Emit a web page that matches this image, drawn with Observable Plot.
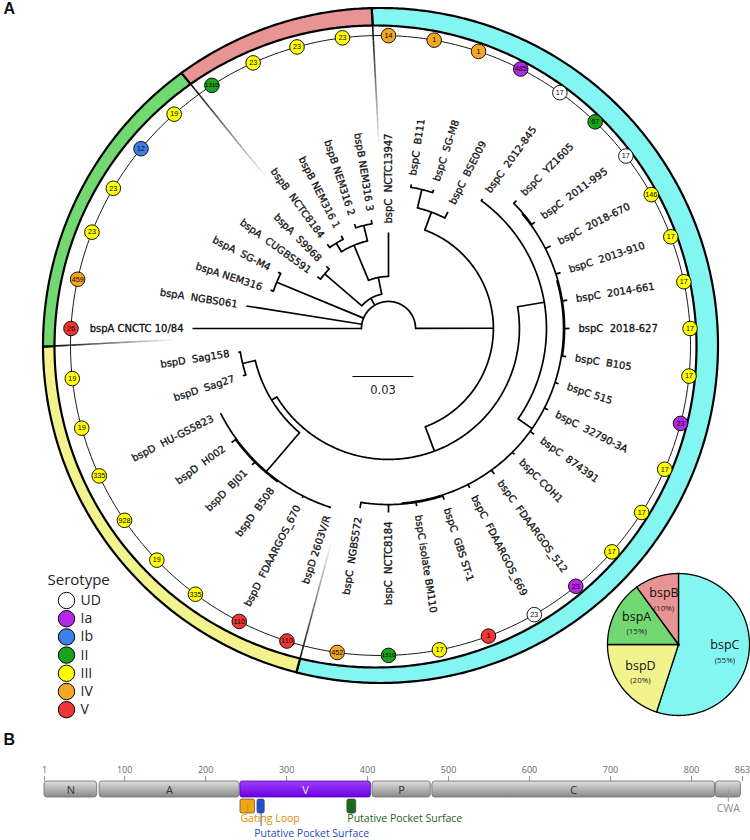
<!DOCTYPE html>
<html>
<head>
<meta charset="utf-8">
<script src="https://cdn.jsdelivr.net/npm/d3@7"></script>
<script src="https://cdn.jsdelivr.net/npm/@observablehq/plot@0.6"></script>
<style>
  html, body { margin: 0; padding: 0; background: #fff; }
  #chart { width: 750px; }
  #chart svg { display: block; }
  #chart svg text { white-space: pre; }
</style>
</head>
<body>
<div id="chart"></div>
<script>
// ================= DATA =================
// leaves in clockwise order, starting at 9 o'clock
const leafNames = [
  "bspA CNCTC 10/84", "bspA  NGBS061", "bspA NEM316", "bspA  SG-M4", "bspA  CUGBS591",
  "bspA  S9968", "bspB  NCTC8184", "bspB NEM316 1", "bspB NEM316 2", "bspB NEM316 3",
  "bspC  NCTC13947", "bspC  B111", "bspC  SG-M8", "bspC  BSE009", "bspC  2012-845",
  "bspC  YZ1605", "bspC  2011-995", "bspC  2018-670", "bspC  2013-910", "bspC  2014-661",
  "bspC  2018-627", "bspC  B105", "bspC 515", "bspC  32790-3A", "bspC  874391",
  "bspC COH1", "bspC  FDAARGOS_512", "bspC  FDAARGOS_669", "bspC  GBS ST-1", "bspC isolate BM110",
  "bspC  NCTC8184", "bspC  NGBS572", "bspD 2603V/R", "bspD  FDAARGOS_670", "bspD  B508",
  "bspD  BJ01", "bspD  H002", "bspD  HU-GS5823", "bspD  Sag27", "bspD  Sag158"
];
const leafSerotype = [
  "V", "IV", "III", "III", "Ib", "III", "II", "III", "III", "III",
  "IV", "IV", "IV", "Ia", "UD", "II", "UD", "III", "III", "III",
  "III", "III", "Ia", "III", "III", "III", "Ia", "UD", "V", "III",
  "II", "IV", "V", "V", "III", "III", "III", "III", "III", "III"
];
const leafST = [
  26, 459, 23, 23, 12, 19, 1310, 23, 23, 23,
  14, 1, 1, 485, 17, 67, 17, 146, 17, 17,
  17, 17, 23, 17, 17, 17, 23, 23, 1, 17,
  1310, 452, 110, 110, 335, 19, 928, 335, 19, 19
];
// root-to-tip distance of each leaf (substitutions / site)
const leafDepth = [
  0.0964, 0.0708, 0.0610, 0.0610, 0.0433, 0.0433, 0.0512, 0.0512, 0.0541, 0.0541,
  0.0472, 0.0718, 0.0718, 0.0644, 0.0787, 0.0890, 0.0890, 0.0895, 0.0890, 0.0890,
  0.0890, 0.0885, 0.0880, 0.0880, 0.0885, 0.0876, 0.0885, 0.0880, 0.0885, 0.0885,
  0.0905, 0.0895, 0.0925, 0.0935, 0.0930, 0.0949, 0.0954, 0.0925, 0.0753, 0.0748
];
// tree topology: [node depth, ...children]; a child is a leaf name or a sub-node
const tree =
[0.0133,
  "bspA CNCTC 10/84", "bspA  NGBS061",
  [0.0595, "bspA NEM316", "bspA  SG-M4"],
  [0.0172,
    [0.0413, "bspA  CUGBS591", "bspA  S9968"],
    [0.0256,
      [0.0443, [0.0492, "bspB  NCTC8184", "bspB NEM316 1"], [0.0521, "bspB NEM316 2", "bspB NEM316 3"]],
      "bspC  NCTC13947"]],
  [0.0516,
    [0.0610, [0.0703, "bspC  B111", "bspC  SG-M8"], "bspC  BSE009"],
    [0.0644,
      [0.0777, "bspC  2012-845",
        [0.0861,
          [0.0866, [0.0871, "bspC  YZ1605", "bspC  2011-995"], "bspC  2018-670", "bspC  2013-910", "bspC  2014-661", "bspC  2018-627", "bspC  B105"],
          "bspC 515", "bspC  32790-3A", "bspC  874391", "bspC COH1", "bspC  FDAARGOS_512", "bspC  FDAARGOS_669",
          [0.0866, "bspC  GBS ST-1", "bspC isolate BM110", "bspC  NCTC8184", "bspC  NGBS572"]]],
      [0.0674,
        [0.0925, "bspD 2603V/R", "bspD  FDAARGOS_670", [0.0930, "bspD  B508", "bspD  BJ01", "bspD  H002"], "bspD  HU-GS5823"],
        [0.0738, "bspD  Sag27", "bspD  Sag158"]]]]
];
const scaleBarValue = 0.03;

const groups = ["bspC", "bspD", "bspA", "bspB"];
const groupColors = ["#84f6f2", "#f3f38e", "#72d872", "#e89494"];
const pieGroups = ["bspC", "bspD", "bspA", "bspB"];
const piePercent = [55, 20, 15, 10];

const serotypes = ["UD", "Ia", "Ib", "II", "III", "IV", "V"];
const serotypeColors = ["#ffffff", "#b428e6", "#3d80ea", "#1ba21b", "#ffff00", "#f5a623", "#ef3535"];

const domainNames = ["N", "A", "V", "P", "C", "CWA"];
const domainStart = [1, 69, 243, 406, 480, 830];
const domainEnd = [66, 242, 404, 478, 829, 861];
const featureNames = ["Gating Loop", "Putative Pocket Surface", "Putative Pocket Surface"];
const featureStart = [243, 264, 375];
const featureEnd = [261, 273, 386];
const featureColors = ["#f2a516", "#2350d0", "#1d6b1d"];
const featureTextColors = ["#e08c00", "#2848c8", "#1f5f1f"];
const aaTicks = [1, 100, 200, 300, 400, 500, 600, 700, 800, 863];

// ================= LAYOUT HELPERS =================
const K = 2033;                       // px per substitution unit (0.03 -> 61 px)
const T0 = [388, 328];                // tree centre on the page
const L = (sx, sy) => [sx - T0[0], T0[1] - sy];   // page px -> layout (y up)
const rad = a => a * Math.PI / 180;
const P = (r, a) => [r * Math.sin(rad(a)), r * Math.cos(rad(a))];
const ang = d3.scaleLinear().domain([0, leafNames.length]).range([270, 630]);
function rayCircle(a, c, rho) {
  const u = [Math.sin(rad(a)), Math.cos(rad(a))];
  const b = u[0] * c[0] + u[1] * c[1];
  const t = b + Math.sqrt(b * b - (c[0] * c[0] + c[1] * c[1]) + rho * rho);
  return [t * u[0], t * u[1]];
}
const trackC = L(380, 345), trackR = 310;
const outerC = L(380, 345), outerR = 337.5;
const innerC = L(375, 346), innerR = 321;
const sero = new Map(serotypes.map((s, i) => [s, serotypeColors[i]]));
const gcol = new Map(groups.map((g, i) => [g, groupColors[i]]));
const norm = a => ((a % 360) + 360) % 360;

const leaves = leafNames.map((name, i) => ({
  name, group: name.slice(0, 4), a: ang(i), depth: leafDepth[i],
  serotype: leafSerotype[i], st: leafST[i]
}));

// tree geometry
const radials = [], arcPts = [];
let arcCount = 0;
function walk(node, parentR) {
  if (typeof node === "string") {
    const i = leafNames.indexOf(node);
    const a = ang(i), r = leafDepth[i] * K;
    if (parentR != null) radials.push({a, r0: parentR, r1: r});
    return {a, r};
  }
  const r = node[0] * K;
  const kids = node.slice(1).map(c => walk(c, r));
  const a0 = kids[0].a, a1 = kids[kids.length - 1].a;
  if (r > 0) {
    const id = arcCount++;
    const n = Math.max(2, Math.ceil((a1 - a0) / 0.5));
    for (let k = 0; k <= n; k++) {
      const [x, y] = P(r, a0 + (a1 - a0) * k / n);
      arcPts.push({id, x, y});
    }
  }
  const a = (a0 + a1) / 2;
  if (parentR != null) radials.push({a, r0: parentR, r1: r});
  return {a, r};
}
walk(tree, null);

// labels
const labels = leaves.map(d => {
  const a = norm(d.a);
  const [x, y] = P(d.depth * K + 9, a);
  const right = a < 180;
  return {...d, x, y, right, rot: right ? a - 90 : a - 270};
});

// serotype circles on the track
const dots = leaves.map(d => {
  const [x, y] = rayCircle(d.a, trackC, trackR);
  return {...d, x, y};
});
const trackPts = d3.range(0, 361, 1).map(t => ({x: trackC[0] + trackR * Math.sin(rad(t)), y: trackC[1] + trackR * Math.cos(rad(t))}));

// group band
const spans = groups.map(g => {
  const as = leaves.filter(d => d.group === g).map(d => d.a);
  return {g, a0: d3.min(as) - 4.5 + 1.5, a1: d3.max(as) + 4.5 + 1.5};
});
const bandPolys = spans.map(s => {
  const pts = [];
  const n = Math.ceil((s.a1 - s.a0) / 0.5);
  for (let k = 0; k <= n; k++) { const [x, y] = rayCircle(s.a0 + (s.a1 - s.a0) * k / n, outerC, outerR); pts.push({x, y}); }
  for (let k = n; k >= 0; k--) { const [x, y] = rayCircle(s.a0 + (s.a1 - s.a0) * k / n, innerC, innerR); pts.push({x, y}); }
  pts.push(pts[0]);
  return {g: s.g, pts};
});
// fading divider lines
const fade = [];
spans.forEach(s => {
  const [ix, iy] = rayCircle(s.a0, innerC, innerR);
  const r0 = Math.hypot(ix, iy);
  const nseg = 16, len = 118;
  for (let k = 0; k < nseg; k++) {
    const ra = r0 - len * k / nseg, rb = r0 - len * (k + 1) / nseg;
    const [x1, y1] = P(ra, s.a0), [x2, y2] = P(rb, s.a0);
    fade.push({x1, y1, x2, y2, o: 0.95 * (1 - k / nseg)});
  }
});

// pie
const pieC = L(678, 644), pieR = 71;
const pieArcs = d3.pie().sort(null).value(d => d)(piePercent);
const pieSlices = pieArcs.map((p, i) => {
  const pts = [{x: pieC[0], y: pieC[1]}];
  const n = Math.ceil((p.endAngle - p.startAngle) / 0.01);
  for (let k = 0; k <= n; k++) {
    const t = p.startAngle + (p.endAngle - p.startAngle) * k / n;
    pts.push({x: pieC[0] + pieR * Math.sin(t), y: pieC[1] + pieR * Math.cos(t)});
  }
  pts.push(pts[0]);
  const m = (p.startAngle + p.endAngle) / 2;
  return {g: pieGroups[i], v: piePercent[i], pts, lx: pieC[0] + 47 * Math.sin(m), ly: pieC[1] + 47 * Math.cos(m)};
});

// legend
const legX = L(66, 0)[0], legY0 = 600, legStep = 18.2;
const legend = serotypes.map((s, i) => ({s, x: legX, y: T0[1] - (legY0 + i * legStep)}));

// scale bar
const sb0 = L(352, 376);

// ================= PANEL A =================
const labelFont = "DejaVu Sans, Verdana, sans-serif";
const marks = [];
bandPolys.forEach(b => marks.push(Plot.line(b.pts, {x: "x", y: "y", fill: gcol.get(b.g), stroke: "#000", strokeWidth: 2.2, curve: "linear"})));
marks.push(Plot.link(fade, {x1: "x1", y1: "y1", x2: "x2", y2: "y2", stroke: "#000", strokeWidth: 1.6, strokeOpacity: "o"}));
marks.push(Plot.line(trackPts, {x: "x", y: "y", stroke: "#000", strokeWidth: 0.9}));
marks.push(Plot.line(arcPts, {x: "x", y: "y", z: "id", stroke: "#000", strokeWidth: 1.7}));
marks.push(Plot.link(radials, {
  x1: d => P(d.r0, d.a)[0], y1: d => P(d.r0, d.a)[1],
  x2: d => P(d.r1, d.a)[0], y2: d => P(d.r1, d.a)[1],
  stroke: "#000", strokeWidth: 1.7
}));
marks.push(Plot.dot(dots, {x: "x", y: "y", r: 7.3, fill: d => sero.get(d.serotype), stroke: "#000", strokeWidth: 0.9}));
marks.push(Plot.text(dots, {x: "x", y: "y", text: d => String(d.st), fontSize: d => String(d.st).length > 3 ? 6.2 : 7.2,
  fill: "#000", fontFamily: "Liberation Sans, Arial, sans-serif"}));
marks.push(Plot.text(labels.filter(d => d.right), {x: "x", y: "y", text: "name", rotate: "rot", textAnchor: "start",
  fontSize: 10, fontFamily: labelFont, fill: "#111", stroke: "#111", strokeWidth: 0.3}));
marks.push(Plot.text(labels.filter(d => !d.right), {x: "x", y: "y", text: "name", rotate: "rot", textAnchor: "end",
  fontSize: 10, fontFamily: labelFont, fill: "#111", stroke: "#111", strokeWidth: 0.3}));
// scale bar
marks.push(Plot.link([scaleBarValue], {x1: () => sb0[0], x2: d => sb0[0] + d * K, y1: () => sb0[1], y2: () => sb0[1], stroke: "#000", strokeWidth: 1.2}));
marks.push(Plot.text([scaleBarValue], {x: d => sb0[0] + d * K / 2, y: () => sb0[1] - 14, text: d => String(d),
  fontSize: 11.5, fontFamily: labelFont, fill: "#222"}));
// pie
pieSlices.forEach(s => marks.push(Plot.line(s.pts, {x: "x", y: "y", fill: gcol.get(s.g), stroke: "#000", strokeWidth: 1.3})));
marks.push(Plot.dot([pieC], {x: d => d[0], y: d => d[1], r: 1.5, fill: "#000"}));
marks.push(Plot.text(pieSlices, {x: "lx", y: d => d.ly + 6.5, text: "g", fontSize: 12.5, fontFamily: "Open Sans, sans-serif", fill: "#111"}));
marks.push(Plot.text(pieSlices, {x: "lx", y: d => d.ly - 8.5, text: d => `(${d.v}%)`, fontSize: 8, fontFamily: "Open Sans, sans-serif", fill: "#222"}));
// legend
marks.push(Plot.text(["Serotype"], {x: () => L(47, 0)[0], y: () => T0[1] - 580, text: d => d, textAnchor: "start",
  fontSize: 15, fontFamily: "Open Sans, sans-serif", fill: "#222"}));
marks.push(Plot.dot(legend, {x: "x", y: "y", r: 8.2, fill: d => sero.get(d.s), stroke: "#000", strokeWidth: 1}));
marks.push(Plot.text(legend, {x: d => d.x + 14, y: "y", text: "s", textAnchor: "start", fontSize: 14,
  fontFamily: "Open Sans, sans-serif", fill: "#222"}));
// panel letter
marks.push(Plot.text(["A"], {frameAnchor: "top-left", dx: 3, dy: 2, text: d => d, lineAnchor: "top", textAnchor: "start",
  fontSize: 16, fontWeight: "bold", fontFamily: "Liberation Sans, Arial, sans-serif", fill: "#111"}));

const plotA = Plot.plot({
  width: 750, height: 720, margin: 0,
  x: {domain: [-388, 362], range: [0, 750], axis: null},
  y: {domain: [328, -392], range: [0, 720], axis: null},
  marks
});

// ================= PANEL B =================
const domains = domainNames.map((n, i) => ({name: n, start: domainStart[i], end: domainEnd[i]}));
const features = featureNames.map((n, i) => ({name: n, start: featureStart[i], end: featureEnd[i], color: featureColors[i], tcolor: featureTextColors[i]}));
const plotB = Plot.plot({
  width: 750, height: 120, margin: 0,
  x: {domain: [1, 863], range: [44, 742], axis: null},
  y: {domain: [0, 120], range: [0, 120], axis: null},
  marks: [
    Plot.text(["B"], {frameAnchor: "top-left", dx: 3, dy: 13, text: d => d, lineAnchor: "top", textAnchor: "start",
      fontSize: 16, fontWeight: "bold", fontFamily: "Liberation Sans, Arial, sans-serif", fill: "#111"}),
    Plot.ruleX(aaTicks, {x: d => d, y1: 56, y2: 61, stroke: "#777", strokeWidth: 0.8}),
    Plot.text(aaTicks, {x: d => d, y: 50, text: d => String(d), fontSize: 9, fill: "#666", fontFamily: "Open Sans, sans-serif"}),
    Plot.rect(domains.filter(d => d.name !== "V"), {x1: "start", x2: "end", y1: 61, y2: 77, rx: 3, fill: "url(#gGray)", stroke: "#6a6a6a", strokeWidth: 0.8}),
    Plot.rect(domains.filter(d => d.name === "V"), {x1: "start", x2: "end", y1: 61, y2: 77, rx: 2, fill: "url(#gV)", stroke: "#5200b0", strokeWidth: 0.8}),
    Plot.text(domains.filter(d => d.name !== "CWA"), {x: d => (d.start + d.end) / 2, y: 69.5, text: "name", fontSize: 11,
      fill: d => d.name === "V" ? "#eee" : "#333", fontFamily: "Open Sans, sans-serif"}),
    Plot.ruleX(domains.filter(d => d.name === "CWA"), {x: d => (d.start + d.end) / 2, y1: 70, y2: 82, stroke: "#999", strokeWidth: 1}),
    Plot.text(domains.filter(d => d.name === "CWA"), {x: d => (d.start + d.end) / 2, y: 88, text: "name", fontSize: 10.5,
      fill: "#888", fontFamily: "Open Sans, sans-serif"}),
    Plot.rect(features, {x1: "start", x2: "end", y1: 79, y2: 93, rx: 2, fill: "color", stroke: "#333", strokeWidth: 0.6}),
    Plot.ruleX(features, {x: d => (d.start + d.end) / 2, y1: 84, y2: (d, i) => i === 1 ? 106 : 94, stroke: "tcolor", strokeWidth: 0.9}),
    Plot.text(features, {x: (d, i) => i === 1 ? d.start - 4 : d.start, y: (d, i) => i === 1 ? 113 : 98, text: "name",
      textAnchor: "start", fontSize: 10.5, fill: "tcolor", fontFamily: "Open Sans, sans-serif"})
  ]
});
d3.select(plotB).insert("defs", ":first-child").html(
  `<linearGradient id="gGray" x1="0" y1="0" x2="0" y2="1"><stop offset="0" stop-color="#e0e0e0"/><stop offset="0.5" stop-color="#b4b4b4"/><stop offset="1" stop-color="#8a8a8a"/></linearGradient>
   <linearGradient id="gV" x1="0" y1="0" x2="0" y2="1"><stop offset="0" stop-color="#a040ff"/><stop offset="1" stop-color="#6a00e0"/></linearGradient>`);

document.getElementById("chart").append(plotA, plotB);
</script>
</body>
</html>
